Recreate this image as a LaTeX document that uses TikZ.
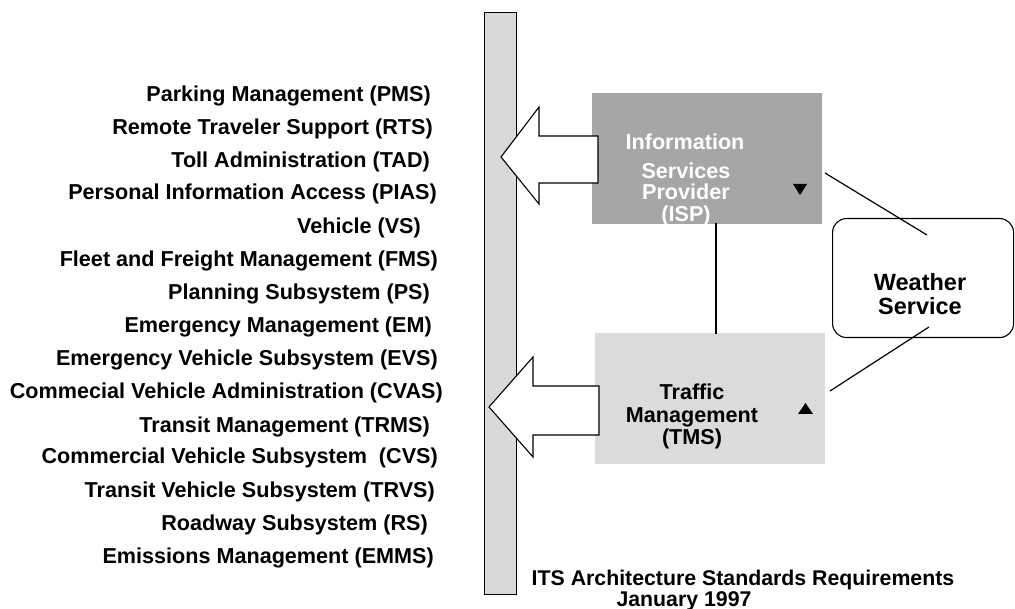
\documentclass[tikz,border=0pt]{standalone}
\usepackage{fontspec}
\setmainfont{Liberation Sans}
\begin{document}
\begin{tikzpicture}[x=1pt,y=-1pt,
  lbl/.style={font=\fontsize{21.6}{24}\selectfont\bfseries, inner sep=0pt},
  item/.style={lbl, anchor=base east},
  ctr/.style={lbl, anchor=base},
  foot/.style={font=\fontsize{21.3}{24}\selectfont\bfseries, inner sep=0pt, anchor=base},
  wtr/.style={font=\fontsize{23.5}{26}\selectfont\bfseries, inner sep=0pt, anchor=base},
  bigarrow/.style={draw=black, fill=white, line width=1.1pt, line join=miter},
  conn/.style={draw=black, line width=1.2pt},
  tri/.style={fill=black, draw=none}]
\useasboundingbox (0,0) rectangle (1015,609);
% bar
\node[draw=black, fill=black!15, line width=1.3pt, minimum width=32pt, minimum height=582pt, inner sep=0pt, anchor=north west] (bar) at (484,12) {};
% boxes
\node[fill=black!35, draw=none, minimum width=230pt, minimum height=131pt, inner sep=0pt, anchor=north west] (isp) at (592,93) {};
\node[fill=black!14, draw=none, minimum width=230pt, minimum height=131pt, inner sep=0pt, anchor=north west] (tms) at (595,333) {};
\node[draw=black, line width=1.1pt, rounded corners=14pt, minimum width=181pt, minimum height=119pt, inner sep=0pt, anchor=north west] (ws) at (832,218) {};
% ISP text
\node[ctr, text=white] (isp1) at (685,150) {Information};
\node[ctr, text=white] (isp2) at (686,179) {Services};
\node[ctr, text=white] (isp3) at (686,200) {Provider};
\node[ctr, text=white] (isp4) at (686,222) {(ISP)};
% TMS text
\node[ctr] (tms1) at (692,400) {Traffic};
\node[ctr] (tms2) at (692,423) {Management};
\node[ctr] (tms3) at (692,445) {(TMS)};
% Weather text
\node[wtr] (ws1) at (920,291) {Weather};
\node[wtr] (ws2) at (920,315) {Service};
% triangles
\fill[tri] (793,184) -- (807,184) -- (800,195) -- cycle;
\fill[tri] (798,414) -- (813,414) -- (805.5,403) -- cycle;
% arrows
\draw[bigarrow] (501,157) -- (539,107) -- (539,136) -- (598,136) -- (598,183) -- (539,183) -- (539,204) -- cycle;
\draw[bigarrow] (489,407) -- (533,357) -- (533,386) -- (599,386) -- (599,435) -- (533,435) -- (533,457) -- cycle;
% connectors
\coordinate (ispB) at (716,223);
\coordinate (tmsT) at (716,334);
\draw[conn] (ispB) -- (tmsT);
\coordinate (ispR) at (825,173);
\coordinate (wsA) at (927,235);
\draw[conn] (ispR) -- (wsA);
\coordinate (tmsR) at (830,391);
\coordinate (wsB) at (929,327);
\draw[conn] (tmsR) -- (wsB);
% list
\node[item] (l1) at (431,102) {Parking Management (PMS)};
\node[item] (l2) at (433,135) {Remote Traveler Support (RTS)};
\node[item] (l3) at (430,168) {Toll Administration (TAD)};
\node[item] (l4) at (437,200) {Personal Information Access (PIAS)};
\node[item] (l5) at (421,234) {Vehicle (VS)};
\node[item] (l6) at (438,267) {Fleet and Freight Management (FMS)};
\node[item] (l7) at (430,300) {Planning Subsystem (PS)};
\node[item] (l8) at (432,333) {Emergency Management (EM)};
\node[item] (l9) at (438,366) {Emergency Vehicle Subsystem (EVS)};
\node[item] (l10) at (443,399) {Commecial Vehicle Administration (CVAS)};
\node[item] (l11) at (430,432) {Transit Management (TRMS)};
\node[item] (l12) at (438,464) {Commercial Vehicle Subsystem\ \ (CVS)};
\node[item] (l13) at (435,497) {Transit Vehicle Subsystem (TRVS)};
\node[item] (l14) at (428,530) {Roadway Subsystem (RS)};
\node[item] (l15) at (434,563) {Emissions Management (EMMS)};
% footer
\node[foot] (ft1) at (743,585) {ITS Architecture Standards Requirements};
\node[foot] (ft2) at (684,606) {January 1997};
\end{tikzpicture}
\end{document}
